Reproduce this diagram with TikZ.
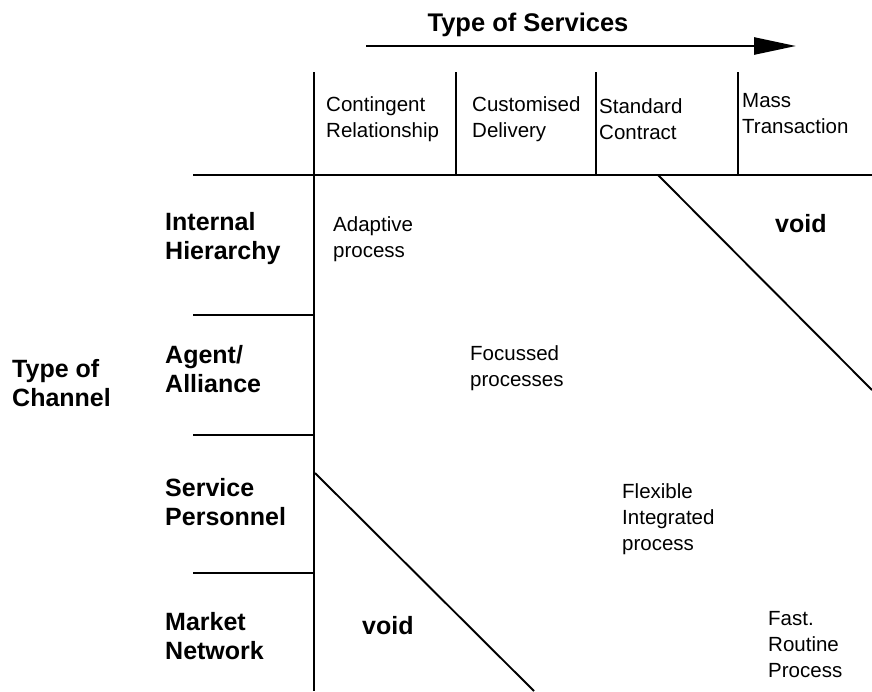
\documentclass[tikz,border=0pt]{standalone}
\usepackage{fontspec}
\setmainfont{Liberation Sans}
\usetikzlibrary{arrows.meta}
\begin{document}
\begin{tikzpicture}[x=1pt,y=-1pt,
  plain/.style={font=\fontsize{20.5}{26}\selectfont,align=left,anchor=west,inner sep=0pt},
  boldlbl/.style={font=\bfseries\fontsize{25}{29}\selectfont,align=left,anchor=west,inner sep=0pt},
  thin/.style={line width=1.4pt},
  thick2/.style={line width=2.8pt},
  mid/.style={line width=1.9pt}]
\useasboundingbox (0,0) rectangle (872,691);
% title and arrow
\node[font=\bfseries\fontsize{25.5}{29}\selectfont,inner sep=0pt] (title) at (528,25) {Type of Services};
\coordinate (arrS) at (366,46);
\coordinate (arrE) at (796,46);
\draw[line width=2.6pt,-{Triangle[length=42pt,width=17pt]}] (arrS) -- (arrE);
% grid
\coordinate (vTop) at (314,72);
\coordinate (vBot) at (314,691);
\draw[thick2] (vTop) -- (vBot);
\draw[thick2] (193,175) -- (872,175);
\foreach \x in {456,596,738} \draw[thin] (\x,72) -- (\x,175);
\foreach \y in {315,435,573} \draw[mid] (193,\y) -- (314,\y);
% diagonals
\draw[mid] (658,175) -- (872,390);
\draw[mid] (315,473) -- (534,691);
% column headers
\node[plain] (c1) at (326,119) {Contingent\\Relationship};
\node[plain] (c2) at (472,119) {Customised\\Delivery};
\node[plain] (c3) at (599,119) {Standard\\Contract};
\node[plain] (c4) at (742,114) {Mass\\Transaction};
% row labels
\node[boldlbl] (r1) at (165,239) {Internal\\Hierarchy};
\node[boldlbl] (r2) at (165,369) {Agent/\\Alliance};
\node[boldlbl] (r3) at (165,502) {Service\\Personnel};
\node[boldlbl] (r4) at (165,636) {Market\\Network};
\node[boldlbl] (ch) at (12,383) {Type of\\Channel};
% cell texts
\node[plain] (t1) at (333,239) {Adaptive\\process};
\node[font=\bfseries\fontsize{25}{29}\selectfont,inner sep=0pt,anchor=west] (v1) at (775,224) {void};
\node[plain] (t2) at (470,368) {Focussed\\processes};
\node[plain] (t3) at (622,519) {Flexible\\Integrated\\process};
\node[font=\bfseries\fontsize{25}{29}\selectfont,inner sep=0pt,anchor=west] (v2) at (362,626) {void};
\node[plain] (t4) at (768,645) {Fast.\\Routine\\Process};
\end{tikzpicture}
\end{document}
